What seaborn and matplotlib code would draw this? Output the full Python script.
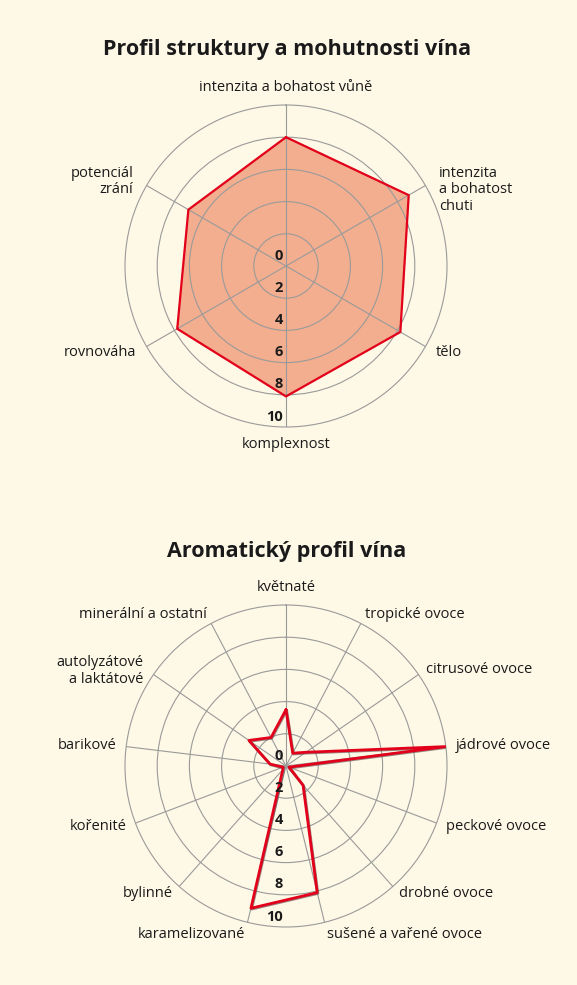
import numpy as np
import matplotlib
matplotlib.use("Agg")
import matplotlib.pyplot as plt
import matplotlib.patheffects as pe
import seaborn as sns

# === Data ===
struct_labels = ["intenzita a bohatost vůně", "intenzita\na bohatost\nchuti", "tělo",
                 "komplexnost", "rovnováha", "potenciál\nzrání"]
struct_values = [8.0, 8.8, 8.2, 8.1, 7.8, 7.0]

aroma_labels = ["květnaté", "tropické ovoce", "citrusové ovoce", "jádrové ovoce",
                "peckové ovoce", "drobné ovoce", "sušené a vařené ovoce", "karamelizované",
                "bylinné", "kořenité", "barikové", "autolyzátové\na laktátové",
                "minerální a ostatní"]
aroma_values = [3.5, 0.9, 1.5, 10.0, 0.2, 1.6, 8.1, 9.1, 0.3, 0.2, 1.0, 2.8, 2.0]

ring_ticks = [0, 2, 4, 6, 8, 10]

# === Style ===
bg = "#fef8e6"
red = "#e2001a"
fill_col = "#f2ae8f"
grid_col = "#9a9a9a"
txt_col = "#1a1a1a"

sns.set_theme(style="white")
plt.rcParams["font.family"] = ["Open Sans", "DejaVu Sans"]
plt.rcParams["text.color"] = txt_col

fig = plt.figure(figsize=(5.77, 9.85), dpi=100, facecolor=bg)


def radar(rect, labels, values, title, title_y, filled, side_pad):
    ax = fig.add_axes(rect, projection="polar")
    ax.set_facecolor(bg)
    ax.set_axisbelow(False)
    ax.set_theta_zero_location("N")
    ax.set_theta_direction(-1)
    n = len(labels)
    theta = np.arange(n) * 2 * np.pi / n
    ax.set_ylim(0, 10)
    ax.set_yticks([2, 4, 6, 8])
    ax.set_yticklabels([])
    ax.set_xticks(theta)
    ax.set_xticklabels([])
    ax.grid(True, color=grid_col, linewidth=0.8)
    ax.spines["polar"].set_color(grid_col)
    ax.spines["polar"].set_linewidth(0.8)

    th = np.append(theta, theta[0])
    vals = np.append(values, values[0])
    if filled:
        ax.fill(th, vals, color=fill_col, zorder=1)
        sns.lineplot(x=th, y=vals, ax=ax, sort=False, estimator=None,
                     color=red, linewidth=1.6, zorder=3)
    else:
        sns.lineplot(x=th, y=vals, ax=ax, sort=False, estimator=None,
                     color=red, linewidth=2.0, zorder=3,
                     path_effects=[pe.SimpleLineShadow(offset=(0.5, -0.6), shadow_color="#6a5a5a", alpha=0.7),
                                   pe.Normal()])
    ax.set_xlabel("")
    ax.set_ylabel("")

    # radial value labels along the bottom spoke
    for r in ring_ticks:
        ax.annotate(str(r), xy=(np.pi, r), xytext=(-2.2, 7.5), textcoords="offset points",
                    ha="right", va="center", fontsize=10.5, fontweight="bold", zorder=4)

    # category labels
    for t, lab in zip(theta, labels):
        s, c = np.sin(t), np.cos(t)
        multi = "\n" in lab
        R = 10.6
        dy = 0.0
        if s > 0.1:
            ha = "left"
        elif s < -0.1:
            ha = "right"
        else:
            ha = "center"
        if ha == "center":
            va = "bottom" if c > 0 else "top"
        else:
            R += side_pad
            va = "center"
            if multi:
                R += 0.2
                va = "top"
                dy = 8.5
            elif c < -0.95:
                dy = -2.2
        ax.annotate(lab, xy=(t, R), xytext=(0, dy), textcoords="offset points",
                    ha=ha, va=va, fontsize=10.5, linespacing=1.12,
                    annotation_clip=False)

    fig.text(0.497, title_y, title, ha="center", va="center",
             fontsize=15.5, fontweight="bold")
    return ax


r_frac_w = 322 / 577
r_frac_h = 322 / 985
left = (286 - 161) / 577
radar([left, (985 - 266 - 161) / 985, r_frac_w, r_frac_h], struct_labels, struct_values,
      "Profil struktury a mohutnosti vína", 1 - 50 / 985, True, 0.15)
radar([left, (985 - 766 - 161) / 985, r_frac_w, r_frac_h], aroma_labels, aroma_values,
      "Aromatický profil vína", 1 - 551 / 985, False, 0.0)

fig.savefig("out.png", dpi=100, facecolor=bg)
